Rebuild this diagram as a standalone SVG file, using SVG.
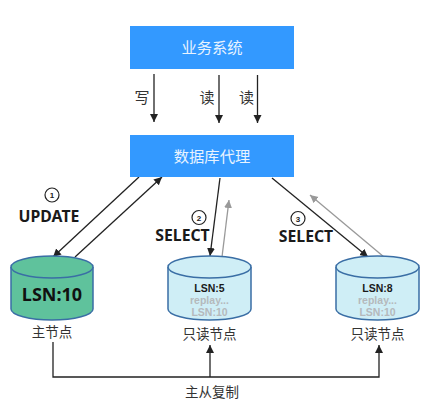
<svg xmlns="http://www.w3.org/2000/svg" width="444" height="413" viewBox="0 0 444 413">
<style>
text{font-family:"Noto Sans CJK SC","Liberation Sans",sans-serif;text-anchor:middle;fill:#222}
.box{fill:#3399ff}
.boxt{fill:#e8f3ff;font-size:15.300px}
.top{font-size:15px;fill:#333}
.lbl{font-size:13.500px;fill:#333}
.cmd{font-family:"Noto Sans","Liberation Sans",sans-serif;font-size:15.800px;font-weight:bold;fill:#1a1a1a}
.c{fill:none;stroke:#222;stroke-width:1.3}
.g{fill:none;stroke:#999;stroke-width:1.3}
.cylg{fill:#5fc29c;stroke:#3a6ea5;stroke-width:1.500}
.cylb{fill:#cfeef6;stroke:#3a6ea5;stroke-width:1.500}
.lsn{font-family:"Liberation Sans",sans-serif;font-size:10.500px;font-weight:bold;fill:#1a1a1a}
.rep{font-family:"Liberation Sans",sans-serif;font-size:10.500px;font-weight:bold;fill:#b5b9bc}
.n{fill:none;stroke:#222;stroke-width:1.200}
.nt{font-family:"Liberation Sans",sans-serif;font-size:8px;font-weight:bold}
</style>
<defs>
<marker id="a" markerUnits="userSpaceOnUse" markerWidth="9" markerHeight="9" refX="8" refY="4" orient="auto"><path d="M0 0L8 4L0 8Z" fill="#222"/></marker>
<marker id="ag" markerUnits="userSpaceOnUse" markerWidth="9" markerHeight="9" refX="8" refY="4" orient="auto"><path d="M0 0L8 4L0 8Z" fill="#999"/></marker>
</defs>
<g id="connectors">
<path class="c" marker-end="url(#a)" d="M154 74V122"/>
<path class="c" marker-end="url(#a)" d="M219 75V123"/>
<path class="c" marker-end="url(#a)" d="M257.500 75V123"/>
<path class="c" marker-end="url(#a)" d="M139 177L53 257"/>
<path class="c" marker-end="url(#a)" d="M75 257L162 177"/>
<path class="c" marker-end="url(#a)" d="M220 178L210 256"/>
<path class="g" marker-end="url(#ag)" d="M222 257L229 200"/>
<path class="c" marker-end="url(#a)" d="M272 178L368 257"/>
<path class="g" marker-end="url(#ag)" d="M384 257L310 195"/>
<path class="c" marker-end="url(#a)" d="M53 342V377H379V345"/>
<path class="c" marker-end="url(#a)" d="M210 377V345"/>
</g>
<g id="biz"><rect class="box" x="130" y="26" width="164" height="43"/><text class="boxt" x="212" y="53">业务系统</text></g>
<g id="proxy"><rect class="box" x="130" y="135" width="164" height="42"/><text class="boxt" x="212" y="162">数据库代理</text></g>
<g id="labels">
<text class="top" x="142" y="103">写</text>
<text class="top" x="207" y="103">读</text>
<text class="top" x="246.500" y="103">读</text>
<text class="lbl" x="212" y="397">主从复制</text>
</g>
<g id="step1"><circle class="n" cx="52" cy="195" r="7"/><text class="nt" x="52" y="198">1</text><text class="cmd" x="49" y="222">UPDATE</text></g>
<g id="step2"><circle class="n" cx="199" cy="217.500" r="7"/><text class="nt" x="199" y="220.500">2</text><text class="cmd" x="182.500" y="241">SELECT</text></g>
<g id="step3"><circle class="n" cx="298" cy="218.500" r="7"/><text class="nt" x="298" y="221.500">3</text><text class="cmd" x="306" y="241.500">SELECT</text></g>
<g id="master">
<path class="cylg" d="M11 267V309A41 11 0 0 0 93 309V267"/><ellipse class="cylg" cx="52" cy="267" rx="41" ry="11"/>
<text x="52" y="301" style="font-family:'Noto Sans','Liberation Sans',sans-serif;font-size:18px;font-weight:bold;fill:#111">LSN:10</text>
<text class="lbl" x="52" y="337">主节点</text>
</g>
<g id="replica1">
<path class="cylb" d="M168 267V309A41.500 11 0 0 0 251 309V267"/><ellipse class="cylb" cx="209.500" cy="267" rx="41.500" ry="11"/>
<text class="lsn" x="209.500" y="292">LSN:5</text><text class="rep" x="209.500" y="304">replay...</text><text class="rep" x="209.500" y="316">LSN:10</text>
<text class="lbl" x="209.500" y="339">只读节点</text>
</g>
<g id="replica2">
<path class="cylb" d="M336 267V309A41.500 11 0 0 0 419 309V267"/><ellipse class="cylb" cx="377.500" cy="267" rx="41.500" ry="11"/>
<text class="lsn" x="377.500" y="292">LSN:8</text><text class="rep" x="377.500" y="304">replay...</text><text class="rep" x="377.500" y="316">LSN:10</text>
<text class="lbl" x="377.500" y="339">只读节点</text>
</g>
</svg>
